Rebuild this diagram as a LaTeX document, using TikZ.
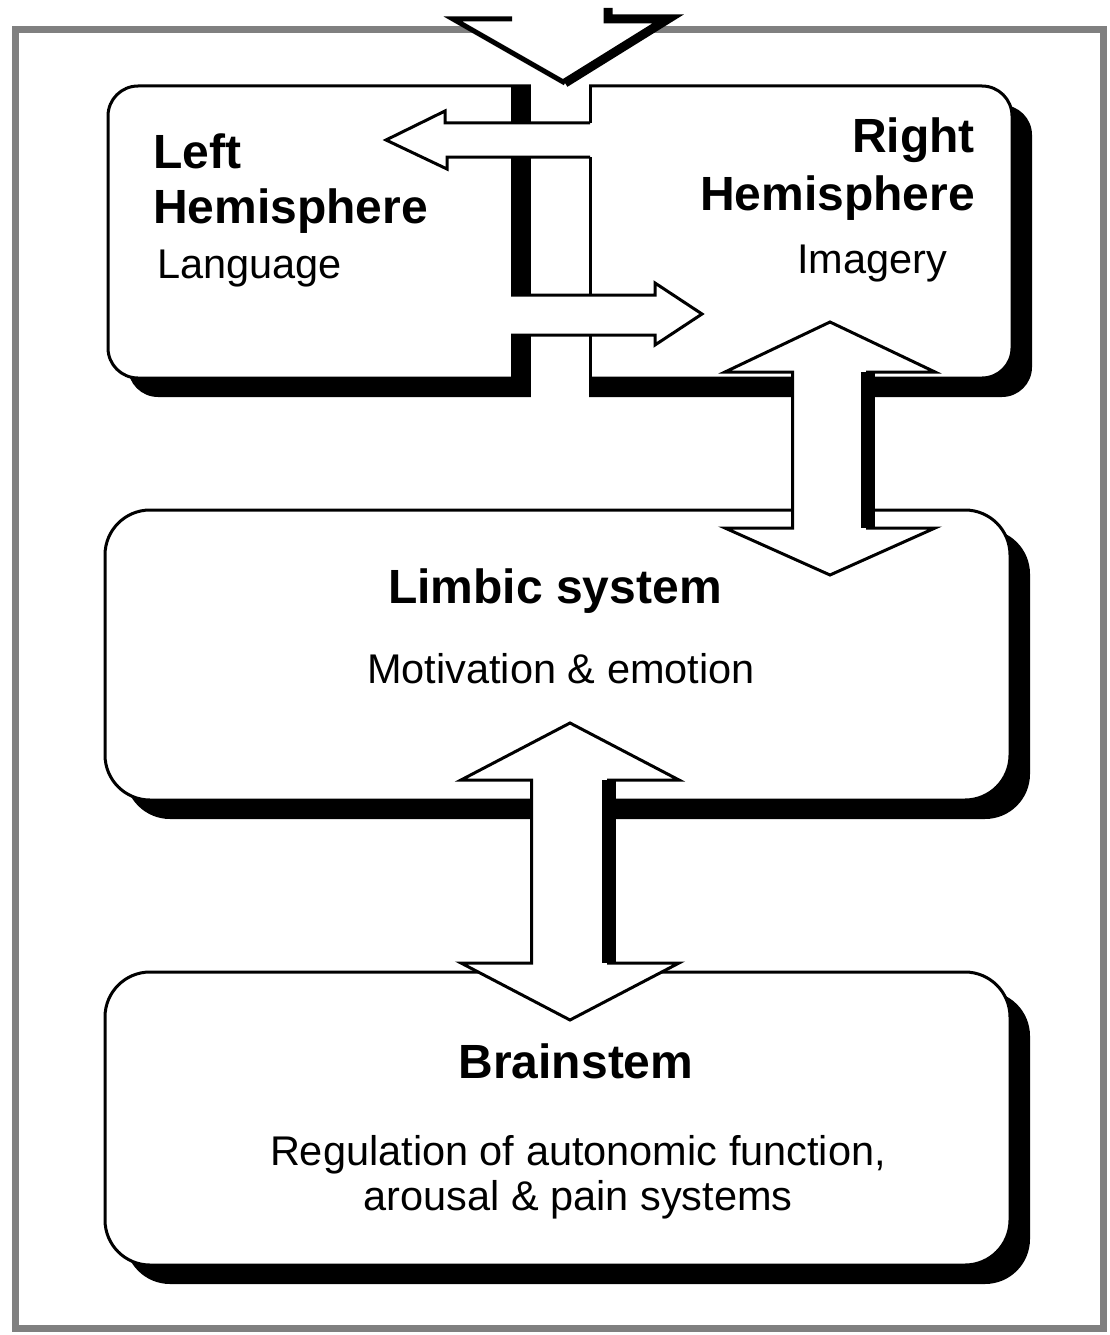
\documentclass[tikz,border=0pt]{standalone}
\usepackage{fontspec}
\setmainfont{Liberation Sans}
\usetikzlibrary{shadows}
\definecolor{framegrey}{RGB}{128,128,128}
\tikzset{
  brainbox/.style={draw, line width=3pt, fill=white, inner sep=0pt, rounded corners=45pt,
    drop shadow={shadow xshift=20pt, shadow yshift=-19pt, fill=black, opacity=1}},
  headtext/.style={inner sep=0pt, font=\fontsize{48}{56}\selectfont\bfseries},
  bodytext/.style={inner sep=0pt, font=\fontsize{41.5}{48}\selectfont},
  blk/.style={draw, line width=3pt, fill=white, line join=miter},
}
\newcommand{\twoway}[7]{%
  \filldraw[blk] (#1,#4) -- (#1+#3,#5) -- (#1+#2,#5) -- (#1+#2,#6) -- (#1+#3,#6) -- (#1,#7)
    -- (#1-#3,#6) -- (#1-#2,#6) -- (#1-#2,#5) -- (#1-#3,#5) -- cycle;
  \draw[line width=14pt] (#1+#2,#5) -- (#1+#2,#6);}
\begin{document}
\begin{tikzpicture}[x=1pt, y=-1pt]
      \useasboundingbox (0,0) rectangle (1110,1335);
      \draw[framegrey, line width=7pt] (15,30) rectangle (1103,1328);
      \node[brainbox, rounded corners=30pt, minimum width=904pt, minimum height=292pt] (hemi) at (560,232) {};
      \node[brainbox, minimum width=905pt, minimum height=290pt] (limbic) at (557.5,655) {};
      \node[brainbox, minimum width=905pt, minimum height=293pt] (brainstem) at (557.5,1118.5) {};
      \fill[white] (531,80) rectangle (589,405);
      \draw[line width=20pt] (521,85) -- (521,123) (521,157) -- (521,295) (521,335) -- (521,397);
      \draw[line width=3pt] (590,85) -- (590,123) (590,157) -- (590,295) (590,335) -- (590,378);
      \begin{scope}[line width=3pt, line join=miter]
        \draw (590,123) -- (445,123) -- (445,111) -- (386,140) -- (447,169) -- (447,157) -- (590,157);
        \draw (511,295) -- (655,295) -- (655,283) -- (702,314) -- (655,345) -- (655,335) -- (511,335);
      \end{scope}
      \fill[white] (453,19) -- (512,19) -- (512,0) -- (608,0) -- (608,19) -- (668,19) -- (565,83) -- cycle;
      \draw[line width=5pt] (512,19) -- (453,19) -- (565,83);
      \draw[line width=9pt] (565,83) -- (668,19) -- (608,19) -- (608,8);
      \twoway{830}{37.5}{105}{322}{372}{528}{575}
      \twoway{570}{38.5}{109}{723}{780}{963}{1020}
      \node[headtext, anchor=base west] (lefttitle) at (153,168) {Left};
      \node[headtext, anchor=base west] (lefthemi) at (153,223) {Hemisphere};
      \node[bodytext, anchor=base west] (language) at (157,278) {Language};
      \node[headtext, anchor=base east] (righttitle) at (975,153) {Right};
      \node[headtext, anchor=base east] (righthemi) at (975,210) {Hemisphere};
      \node[bodytext, anchor=base west] (imagery) at (797,273) {Imagery};
      \node[headtext, anchor=base] (limbictitle) at (555,603) {Limbic system};
      \node[bodytext, anchor=base] (emotion) at (561,683) {Motivation \& emotion};
      \node[headtext, anchor=base] (stemtitle) at (576,1078) {Brainstem};
      \node[bodytext, anchor=base] (regulation) at (578,1165) {Regulation of autonomic function,};
      \node[bodytext, anchor=base] (arousal) at (578,1210) {arousal \& pain systems};
\end{tikzpicture}
\end{document}
